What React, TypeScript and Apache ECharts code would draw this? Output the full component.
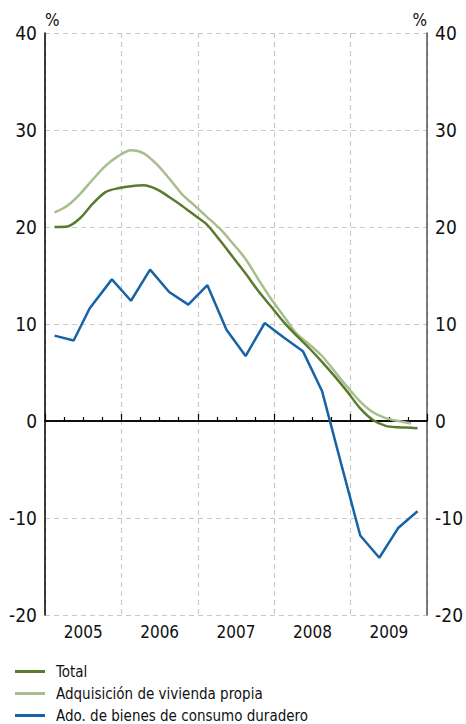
import React, { useEffect, useRef } from "react";
import * as echarts from "echarts";

// months since Jan 2005
const yearLabels = ["2005", "2006", "2007", "2008", "2009"];

const totalMonths = [1.5, 3.5, 5.5, 7.5, 9.5, 11.5, 13.5, 15.5, 17.5, 19.5, 21.5, 23.5, 25.5, 27.5, 29.5, 31.5, 33.5, 35.5, 37.5, 39.5, 41.5, 43.5, 45.5, 47.5, 49.5, 51.5, 53.5, 55.5, 57.5, 58.5];
const totalValues = [20.0, 20.05, 20.9, 22.4, 23.6, 24.0, 24.2, 24.3, 23.9, 23.1, 22.2, 21.2, 20.2, 18.6, 16.9, 15.2, 13.4, 11.8, 10.2, 8.8, 7.5, 6.1, 4.6, 3.0, 1.3, 0.1, -0.5, -0.65, -0.7, -0.75];

const viviendaMonths = [1.5, 3.5, 5.5, 7.5, 9.5, 11.5, 13.5, 15.5, 17.5, 19.5, 21.5, 23.5, 25.5, 27.5, 29.5, 31.5, 33.5, 35.5, 37.5, 39.5, 41.5, 43.5, 45.5, 47.5, 49.5, 51.5, 53.5, 55.5, 57.5];
const viviendaValues = [21.5, 22.2, 23.4, 24.9, 26.3, 27.3, 27.9, 27.6, 26.5, 25.0, 23.4, 22.2, 21.0, 19.8, 18.3, 16.7, 14.6, 12.6, 10.8, 9.0, 7.9, 6.7, 5.1, 3.5, 2.0, 0.9, 0.3, 0.0, -0.25];

const consumoMonths = [1.5, 4.5, 7.0, 10.5, 13.5, 16.5, 19.5, 22.5, 25.5, 28.5, 31.5, 34.5, 37.5, 40.5, 43.5, 46.5, 49.5, 52.5, 55.5, 58.5];
const consumoValues = [8.8, 8.3, 11.6, 14.6, 12.4, 15.6, 13.3, 12.0, 14.0, 9.4, 6.7, 10.1, 8.6, 7.2, 3.1, -4.4, -11.8, -14.1, -11.0, -9.3];

const seriesNames = ["Total", "Adquisición de vivienda propia", "Ado. de bienes de consumo duradero"];
const seriesColors = ["#5a7b2e", "#a8be8c", "#1763a6"];

const FONT = "'DejaVu Sans Condensed', 'Liberation Sans Narrow', sans-serif";

function pairs(xs: number[], ys: number[]) {
  return xs.map((x, i) => [x, ys[i]]);
}

export default function App() {
  const ref = useRef<HTMLDivElement>(null);
  useEffect(() => {
    if (!ref.current) return;
    const chart = echarts.init(ref.current, null, { renderer: "svg" });
    const grid = "#c8c8c8";
    chart.setOption({
      animation: false,
      textStyle: { fontFamily: FONT },
      grid: { left: 45, right: 32, top: 33, bottom: 109 },
      legend: {
        orient: "vertical",
        left: 10,
        top: 658,
        height: 70,
        itemWidth: 30,
        itemHeight: 3,
        itemGap: 5,
        icon: "rect",
        textStyle: { fontFamily: FONT, fontSize: 15, color: "#111", lineHeight: 17, padding: [0, 0, 0, 6] },
        data: seriesNames,
      },
      xAxis: [
        {
          type: "value",
          min: 0,
          max: 60,
          interval: 12,
          axisLine: { show: true, lineStyle: { color: "#000", width: 1.5 } },
          axisTick: { show: true, inside: true, length: 7, lineStyle: { color: "#000", width: 1.2 } },
          minorTick: { show: true, splitNumber: 4, length: 4, lineStyle: { color: "#000", width: 1.2 } },
          axisLabel: { show: false },
          splitLine: { show: true, lineStyle: { color: grid, type: [5, 4], width: 1.2 } },
        },
        {
          type: "category",
          data: yearLabels,
          position: "bottom",
          boundaryGap: true,
          axisLine: { show: false },
          axisTick: { show: false },
          splitLine: { show: false },
          axisLabel: { fontFamily: FONT, fontSize: 17, color: "#111", margin: 8 },
        },
      ],
      yAxis: [
        {
          type: "value",
          min: -20,
          max: 40,
          interval: 10,
          position: "left",
          name: "%",
          nameLocation: "end",
          nameGap: 5,
          nameTextStyle: { fontFamily: FONT, fontSize: 17, color: "#111", align: "left", verticalAlign: "bottom" },
          axisLine: { show: true, lineStyle: { color: "#000", width: 1.5 } },
          axisTick: { show: false },
          axisLabel: { fontFamily: FONT, fontSize: 19, color: "#111", margin: 8 },
          splitLine: { show: true, lineStyle: { color: grid, type: [5, 4], width: 1.2 } },
        },
        {
          type: "value",
          min: -20,
          max: 40,
          interval: 10,
          position: "right",
          name: "%",
          nameLocation: "end",
          nameGap: 5,
          nameTextStyle: { fontFamily: FONT, fontSize: 17, color: "#111", align: "right", verticalAlign: "bottom" },
          axisLine: { show: true, lineStyle: { color: "#555", width: 1.5 } },
          axisTick: { show: false },
          axisLabel: { fontFamily: FONT, fontSize: 19, color: "#111", margin: 8 },
          splitLine: { show: false },
        },
      ],
      series: [
        {
          name: seriesNames[0],
          type: "line",
          xAxisIndex: 0,
          yAxisIndex: 0,
          data: pairs(totalMonths, totalValues),
          smooth: 0.3,
          showSymbol: false,
          color: seriesColors[0],
          lineStyle: { width: 2.5, color: seriesColors[0] },
          z: 4,
          markLine: {
            silent: true,
            symbol: "none",
            label: { show: false },
            lineStyle: { color: "#000", width: 1.5, type: "solid" },
            data: [{ yAxis: 0 }],
            z: 1,
          },
        },
        {
          name: seriesNames[1],
          type: "line",
          xAxisIndex: 0,
          yAxisIndex: 0,
          data: pairs(viviendaMonths, viviendaValues),
          smooth: 0.3,
          showSymbol: false,
          color: seriesColors[1],
          lineStyle: { width: 2.5, color: seriesColors[1] },
          z: 3,
        },
        {
          name: seriesNames[2],
          type: "line",
          xAxisIndex: 0,
          yAxisIndex: 0,
          data: pairs(consumoMonths, consumoValues),
          showSymbol: false,
          color: seriesColors[2],
          lineStyle: { width: 2.5, color: seriesColors[2] },
          z: 5,
        },
      ],
    });
    return () => chart.dispose();
  }, []);
  return (
    <div
      ref={ref}
      style={{ position: "fixed", left: 0, top: 0, width: 466, height: 724, background: "#fff" }}
    />
  );
}
